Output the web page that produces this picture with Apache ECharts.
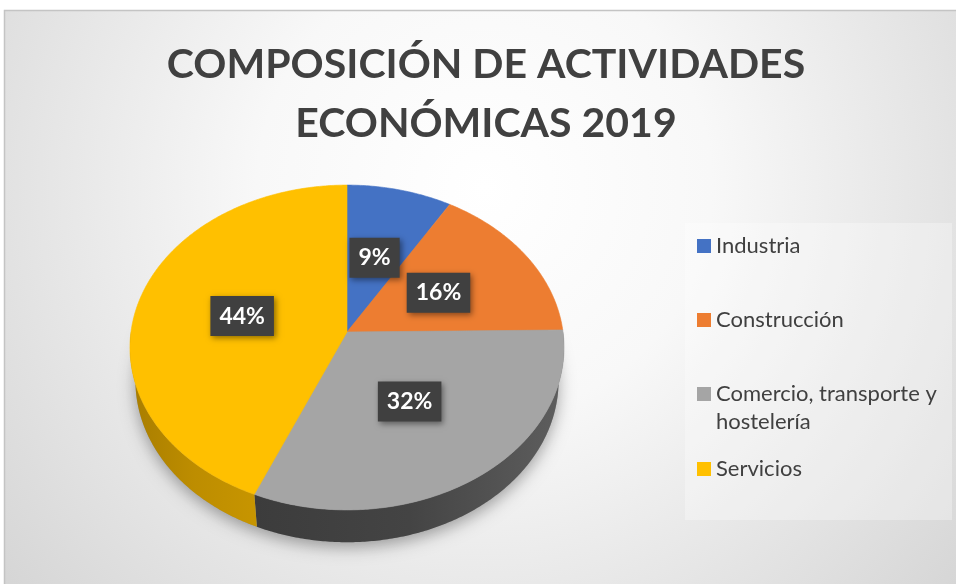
<!DOCTYPE html>
<html>
<head>
<meta charset="utf-8">
<script src="https://cdn.jsdelivr.net/npm/echarts@6/dist/echarts.min.js"></script>
<style>
  html, body { margin: 0; padding: 0; background: #fff; }
  #chart { width: 956px; height: 584px; }
</style>
</head>
<body>
<div id="chart"></div>
<script>
// data
const categories = ["Industria", "Construcción", "Comercio, transporte y hostelería", "Servicios"];
const shares = [8.6, 16.2, 31.6, 43.6];
const faceColors = ["#4472c4", "#ed7d31", "#a5a5a5", "#ffc000"];
const sideColors = [
  ["#2f528f", "#2f528f"],
  ["#ae5a21", "#ae5a21"],
  ["#5e5e5e", "#444444", "#3c3c3c"],
  ["#c79500", "#bd8d00", "#a87d00"]
];

const total = shares.reduce((a, b) => a + b, 0);
const starts = [];
let acc = 0;
shares.forEach(v => { starts.push(acc / total); acc += v; });

// 3d view of the pie (screen layout)
const CX = 347, CY = 332, F = 1510, D = 6.99;
const SA = 0.745, CA = 0.667, H = 0.24;

function proj(t, r, y) {
  const x = r * Math.sin(t), z = r * Math.cos(t);
  const yc = y * CA + z * SA;
  const zc = D + z * CA - y * SA;
  return [CX + F * x / zc, CY - F * yc / zc];
}

function arc(a0, a1, r, y) {
  const pts = [];
  const n = Math.max(2, Math.ceil((a1 - a0) / 0.01));
  for (let k = 0; k <= n; k++) pts.push(proj(a0 + (a1 - a0) * k / n, r, y));
  return pts;
}

function makeRender(i) {
  return function (params, api) {
    const a0 = api.value(0) * Math.PI * 2;
    const a1 = api.value(1) * Math.PI * 2;
    const v = api.value(2);
    const children = [];

    if (i === 0) {
      // soft shadow under the whole pie
      children.push({
        type: "polygon",
        z2: 1,
        shape: { points: arc(0, Math.PI * 2, 1, -H) },
        style: { fill: "#9a9a9a", shadowBlur: 16, shadowColor: "rgba(0,0,0,0.35)", shadowOffsetY: 5 }
      });
    }

    const s0 = Math.max(a0, Math.PI / 2), s1 = Math.min(a1, Math.PI * 1.5);
    if (s1 > s0) {
      const top = arc(s0, s1, 1, 0);
      const bot = arc(s0, s1, 1, -H).reverse();
      const cs = sideColors[i];
      children.push({
        type: "polygon",
        z2: 5,
        shape: { points: top.concat(bot) },
        style: {
          fill: {
            type: "linear", x: 1, y: 0, x2: 0, y2: 0,
            colorStops: cs.map((c, k) => ({ offset: k / (cs.length - 1), color: c }))
          }
        }
      });
    }

    children.push({
      type: "polygon",
      z2: 10,
      shape: { points: [proj(0, 0, 0)].concat(arc(a0, a1, 1, 0)) },
      style: { fill: faceColors[i], stroke: faceColors[i], lineWidth: 0.6 }
    });

    const m = proj((a0 + a1) / 2, 0.5, 0);
    children.push({
      type: "text",
      z2: 20,
      x: m[0],
      y: m[1],
      style: {
        text: Math.round(v / total * 100) + "%",
        fill: "#ffffff",
        font: "bold 23px Lato",
        align: "center",
        verticalAlign: "middle",
        backgroundColor: "#404040",
        padding: [9, 9, 8, 9],
        shadowColor: "rgba(0,0,0,0.45)",
        shadowBlur: 6,
        shadowOffsetX: 2,
        shadowOffsetY: 2
      }
    });

    return { type: "group", children: children };
  };
}

const legendTops = [235, 309, 352, 458];

const chart = echarts.init(document.getElementById("chart"));
chart.setOption({
  animation: false,
  title: {
    text: "COMPOSICIÓN DE ACTIVIDADES\nECONÓMICAS 2019",
    left: 486,
    top: 35,
    padding: 0,
    textAlign: "center",
    textVerticalAlign: "top",
    textStyle: {
      fontFamily: "Lato",
      fontWeight: "bold",
      fontSize: 41,
      lineHeight: 59,
      color: "#404040"
    }
  },
  graphic: [
    {
      type: "rect",
      z: -10,
      shape: { x: 4.5, y: 10.5, width: 960, height: 590 },
      style: {
        fill: {
          type: "radial", x: 0.5, y: 0.3, r: 1.1,
          colorStops: [
            { offset: 0, color: "#ffffff" },
            { offset: 0.35, color: "#f8f8f8" },
            { offset: 1, color: "#d3d3d3" }
          ]
        },
        stroke: "#c4c4c4",
        lineWidth: 1.5
      }
    },
    {
      type: "rect",
      z: -9,
      shape: { x: 685, y: 223, width: 267, height: 297 },
      style: { fill: "rgba(255,255,255,0.3)" }
    }
  ],
  legend: categories.map((name, i) => ({
    data: [name],
    orient: "vertical",
    left: 697,
    top: legendTops[i],
    padding: 0,
    icon: "rect",
    itemWidth: 14,
    itemHeight: 14,
    selectedMode: false,
    formatter: n => n.replace("Comercio, transporte y ", "\nComercio, transporte y\n"),
    textStyle: i === 2
      ? { fontFamily: "Lato", fontSize: 22, color: "#404040", lineHeight: 28 }
      : { fontFamily: "Lato", fontSize: 22, color: "#404040", lineHeight: 22 }
  })),
  series: categories.map((name, i) => ({
    type: "custom",
    name: name,
    coordinateSystem: "none",
    silent: true,
    itemStyle: { color: faceColors[i] },
    data: [[starts[i], starts[i] + shares[i] / total, shares[i]]],
    renderItem: makeRender(i)
  }))
});
</script>
</body>
</html>
